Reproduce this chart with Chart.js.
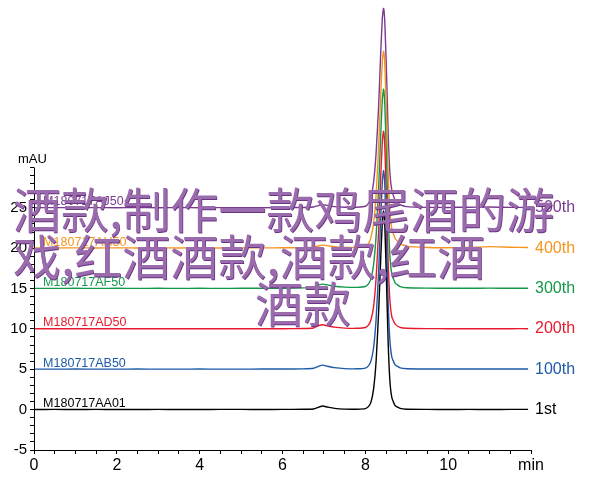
<!DOCTYPE html>
<html>
<head>
<meta charset="utf-8">
<script src="https://cdn.jsdelivr.net/npm/chart.js@4/dist/chart.umd.min.js"></script>
<style>
  html, body { margin: 0; padding: 0; background: #ffffff; }
  #wrap { position: relative; width: 600px; height: 504px; overflow: hidden; }
  #c { position: absolute; left: 0; top: 0; }
  .ov {
    position: absolute;
    font-family: "Noto Sans CJK SC", "Noto Sans CJK JP", sans-serif;
    font-size: 48px;
    line-height: 48px;
    color: #9b6cad;
    white-space: nowrap;
    text-shadow: 0.6px 0.6px 0 #6a3580;
  }
</style>
</head>
<body>
<div id="wrap">
  <canvas id="c" width="600" height="504"></canvas>
  <div class="ov" style="left:13px; top:183px;">酒款,制作一款鸡尾酒的游</div>
  <div class="ov" style="left:13px; top:230px;">戏,红酒酒款,酒款,红酒</div>
  <div class="ov" style="left:0px; width:606px; text-align:center; top:277px;">酒款</div>
</div>
<script>
// ---- data (retention time in min, absorbance in mAU, traces stacked on their baselines) ----
const times = [0, 0.5, 1.0, 1.5, 2.0, 2.5, 3.0, 3.5, 4.0, 4.5, 5.0, 5.5, 6.0, 6.5,
  6.75, 6.88, 6.97, 7.08, 7.25, 7.5, 7.8, 8.0,
  8.08, 8.14, 8.2, 8.26, 8.32, 8.37, 8.41, 8.44, 8.47, 8.51, 8.55, 8.59, 8.64, 8.72, 8.84, 9.0,
  9.5, 10.0, 10.5, 11.0, 11.5, 11.93];

const seriesNames = ['1st', '100th', '200th', '300th', '400th', '500th'];
const sampleIds = ['M180717AA01', 'M180717AB50', 'M180717AD50', 'M180717AF50', 'M180717AH50', 'M180717AJ50'];
const baselines = [0, 5, 10, 15, 20, 25];

const trace1st = [0.02, 0.03, 0.02, 0.03, 0.02, 0.02, 0.03, 0.02, 0.02, 0.03, 0.03, 0.02, 0.03, 0.04,
  0.08, 0.32, 0.45, 0.33, 0.16, 0.06, 0.05, 0.12,
  0.4, 1.0, 2.6, 6.0, 12.0, 18.5, 23.2, 24.6, 22.8, 16.0, 8.5, 3.8, 1.5, 0.5, 0.15, 0.05,
  0.03, 0.02, 0.03, 0.02, 0.03, 0.03];
const trace100th = [5.02, 5.02, 5.03, 5.02, 5.02, 5.03, 5.02, 5.02, 5.03, 5.02, 5.02, 5.03, 5.03, 5.05,
  5.12, 5.40, 5.52, 5.38, 5.20, 5.08, 5.06, 5.15,
  5.45, 6.1, 7.7, 11.2, 17.0, 23.5, 28.2, 29.6, 27.8, 21.0, 13.5, 8.8, 6.5, 5.55, 5.18, 5.07,
  5.04, 5.03, 5.03, 5.04, 5.03, 5.03];
const trace200th = [10.02, 10.03, 10.02, 10.02, 10.03, 10.02, 10.02, 10.03, 10.02, 10.03, 10.02, 10.02, 10.03, 10.05,
  10.12, 10.42, 10.52, 10.40, 10.22, 10.10, 10.08, 10.18,
  10.5, 11.2, 12.8, 16.3, 22.0, 28.6, 33.2, 34.5, 32.6, 26.0, 18.5, 13.8, 11.5, 10.6, 10.2, 10.08,
  10.04, 10.03, 10.03, 10.02, 10.03, 10.03];
const trace300th = [15.02, 15.02, 15.03, 15.02, 15.03, 15.02, 15.03, 15.02, 15.03, 15.02, 15.03, 15.03, 15.04, 15.08,
  15.18, 15.45, 15.55, 15.45, 15.28, 15.18, 15.15, 15.25,
  15.6, 16.3, 18.0, 21.5, 27.3, 33.8, 38.4, 39.7, 37.8, 31.3, 24.0, 19.3, 16.8, 15.7, 15.25, 15.1,
  15.05, 15.04, 15.03, 15.05, 15.03, 15.03];
const trace400th = [20.03, 20.03, 20.04, 20.03, 20.04, 20.03, 20.04, 20.03, 20.04, 20.03, 20.04, 20.04, 20.05, 20.07,
  20.12, 20.30, 20.38, 20.32, 20.18, 20.10, 20.10, 20.2,
  20.6, 21.4, 23.1, 26.6, 32.4, 38.8, 43.2, 44.4, 42.8, 36.8, 29.5, 24.8, 22.4, 21.2, 20.6, 20.25,
  20.08, 20.06, 20.1, 20.2, 20.12, 20.08];
const trace500th = [25.02, 25.03, 25.02, 25.03, 25.02, 25.03, 25.02, 25.03, 25.02, 25.03, 25.03, 25.02, 25.03, 25.05,
  25.1, 25.3, 25.4, 25.3, 25.15, 25.08, 25.08, 25.2,
  25.6, 26.4, 28.2, 31.8, 37.5, 44.0, 48.5, 49.7, 48.0, 42.0, 34.5, 29.6, 27.2, 25.9, 25.4, 25.15,
  25.06, 25.05, 25.08, 25.1, 25.06, 25.05];

const traces = [trace1st, trace100th, trace200th, trace300th, trace400th, trace500th];
const colors = ['#000000', '#1d5aa8', '#e8192c', '#14994a', '#f7941e', '#7a3a90'];

const xTickLabels = { 0: '0', 2: '2', 4: '4', 6: '6', 8: '8', 10: '10', 12: 'min' };
const yTickLabels = [-5, 0, 5, 10, 15, 20, 25];

const LATIN = '"Liberation Sans", Arial, Helvetica, sans-serif';

const datasets = traces.map((vals, i) => ({
  label: seriesNames[i],
  data: times.map((t, k) => ({ x: t, y: vals[k] })),
  borderColor: colors[i],
  backgroundColor: colors[i],
  borderWidth: 1.4,
  pointRadius: 0,
  tension: 0.15,
  fill: false
}));

const extras = {
  id: 'extras',
  afterDraw(chart) {
    const ctx = chart.ctx;
    const xs = chart.scales.x, ys = chart.scales.y;
    ctx.save();
    // left axis line from -5 to 30 mAU
    const ax = Math.round(chart.chartArea.left) + 0.5;
    ctx.strokeStyle = '#000';
    ctx.lineWidth = 1;
    ctx.beginPath();
    ctx.moveTo(ax, ys.getPixelForValue(-5) + 0.5);
    ctx.lineTo(ax, ys.getPixelForValue(30));
    ctx.stroke();
    // unit label
    ctx.font = '13px ' + LATIN;
    ctx.fillStyle = '#000';
    ctx.textBaseline = 'middle';
    ctx.textAlign = 'left';
    ctx.fillText('mAU', 18, ys.getPixelForValue(30) - 8);
    // sample ids above each baseline
    ctx.font = '12.5px ' + LATIN;
    ctx.textBaseline = 'alphabetic';
    sampleIds.forEach((s, i) => {
      ctx.fillStyle = colors[i];
      ctx.fillText(s, xs.getPixelForValue(0.22), ys.getPixelForValue(baselines[i]) - 2.5);
    });
    ctx.restore();
  }
};

new Chart(document.getElementById('c'), {
  type: 'line',
  data: { datasets },
  plugins: [extras],
  options: {
    responsive: false,
    animation: false,
    events: [],
    layout: { padding: { top: 2, left: 0, right: 0, bottom: 0 } },
    plugins: { legend: { display: false }, tooltip: { enabled: false } },
    scales: {
      x: {
        type: 'linear',
        position: 'bottom',
        min: 0,
        max: 12,
        afterFit(s) { s.height = 54; s.paddingLeft = 0; s.paddingRight = 0; },
        ticks: {
          stepSize: 0.5,
          autoSkip: false,
          maxRotation: 0,
          padding: 2,
          color: '#000',
          font: { family: LATIN, size: 16 },
          callback: v => (xTickLabels[v] !== undefined ? xTickLabels[v] : '')
        },
        grid: { drawOnChartArea: false, tickLength: 4, color: '#000', tickColor: '#000' },
        border: { display: true, color: '#000', width: 1 }
      },
      y: {
        type: 'linear',
        position: 'left',
        min: -5,
        max: 50.5,
        afterFit(s) { s.width = 34; s.paddingTop = 0; s.paddingBottom = 0; },
        ticks: {
          stepSize: 1,
          autoSkip: false,
          padding: 3,
          color: '#000',
          font: { family: LATIN, size: 15 },
          callback: v => (yTickLabels.includes(v) ? String(v) : '')
        },
        grid: {
          drawOnChartArea: false,
          tickLength: 4,
          tickColor: c => (c.tick && c.tick.value <= 30 ? '#000' : 'rgba(0,0,0,0)')
        },
        border: { display: false }
      },
      y2: {
        type: 'linear',
        position: 'right',
        min: -5,
        max: 50.5,
        afterBuildTicks(s) { s.ticks = baselines.map(v => ({ value: v })); },
        afterFit(s) { s.width = 69; s.paddingTop = 0; s.paddingBottom = 0; },
        ticks: {
          autoSkip: false,
          padding: 4,
          font: { family: LATIN, size: 16 },
          color: c => colors[baselines.indexOf(c.tick ? c.tick.value : -1)] || '#000',
          callback: v => seriesNames[baselines.indexOf(v)] || ''
        },
        grid: { display: false, drawTicks: false },
        border: { display: false }
      }
    }
  }
});
</script>
</body>
</html>
